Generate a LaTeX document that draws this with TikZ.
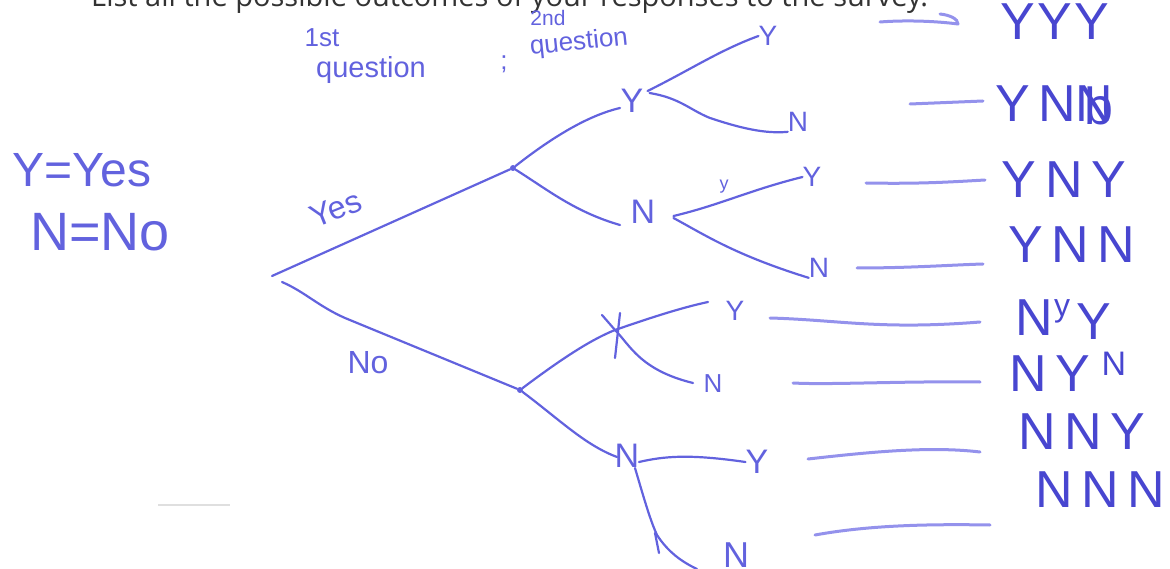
\documentclass[tikz,border=0pt]{standalone}
\usepackage{fontspec}
\setmainfont{Liberation Sans}
\newfontfamily\printfont{Open Sans}
\definecolor{ink}{HTML}{6262DE}
\definecolor{inkdark}{HTML}{4846D0}
\definecolor{inklight}{HTML}{9492EC}
\definecolor{printgray}{HTML}{333333}
\tikzset{
  branch/.style={draw=ink, line width=2.2pt, line cap=round, line join=round},
  guide/.style={draw=inklight, line width=3pt, line cap=round},
  dotmark/.style={circle, fill=ink, inner sep=0pt, minimum size=6pt},
  lab/.style={text=ink, inner sep=0pt, font=\fontsize{34}{34}\selectfont},
  leaf/.style={text=ink, inner sep=0pt, font=\fontsize{28}{28}\selectfont},
  note/.style={text=ink, inner sep=0pt, font=\fontsize{22}{22}\selectfont},
  outcome/.style={text=inkdark, inner sep=0pt, font=\fontsize{52}{52}\selectfont},
}
\begin{document}
\begin{tikzpicture}[x=1pt,y=-1pt]
\useasboundingbox (0,0) rectangle (1170,569);
\clip (0,0) rectangle (1170,569);

% printed instruction, cut off at the top edge
\node[anchor=base west, inner sep=0pt, text=printgray, font=\printfont\fontsize{29}{29}\selectfont]
  (title) at (91,7) {List all the possible outcomes of your responses to the survey.};

% legend
\node[note, font=\fontsize{48}{48}\selectfont] (legy) at (82,170) {Y=Yes};
\node[note, font=\fontsize{54}{54}\selectfont] (legn) at (100,232) {N=No};

% column headings
\node[note, font=\fontsize{26}{26}\selectfont] (h1a) at (322,38) {1st};
\node[note, font=\fontsize{29}{29}\selectfont] (h1b) at (371,70) {question};
\node[note, font=\fontsize{26}{26}\selectfont] (semi) at (504,64) {;};
\node[note, font=\fontsize{21}{21}\selectfont] (h2a) at (548,18) {2nd};
\node[note, rotate=6, font=\fontsize{26}{26}\selectfont] (h2b) at (579,43) {question};

% tree: root and first-level nodes
\coordinate (root) at (272,276);
\coordinate (root2) at (282,282);
\node[dotmark] (a) at (513,168) {};
\node[dotmark] (b) at (520,390) {};
\draw[branch] (root) -- (a);
\draw[branch] (root2) .. controls (305,292) and (318,306) .. (345,318) -- (b);
\node[note, rotate=22, font=\fontsize{32}{32}\selectfont] (yes) at (336,209) {Yes};
\node[note, font=\fontsize{32}{32}\selectfont] (no) at (368,363) {No};

% second level
\node[lab] (y1) at (632,101) {Y};
\node[lab] (n1) at (643,212) {N};
\node[lab] (n2) at (627,456) {N};
\coordinate (x2) at (615,330);
\draw[branch] (a) .. controls (555,135) and (590,115) .. (620,108);
\draw[branch] (a) .. controls (548,190) and (575,212) .. (620,225);
\draw[branch] (b) .. controls (560,360) and (590,340) .. (x2);
\draw[branch] (b) .. controls (560,420) and (585,445) .. (617,457);

% third level leaves
\node[leaf] (yy) at (768,36) {Y};
\node[leaf] (yn) at (798,122) {N};
\node[leaf] (ny) at (812,177) {Y};
\node[leaf] (nn) at (819,268) {N};
\node[leaf] (xy) at (735,311) {Y};
\node[leaf, font=\fontsize{26}{26}\selectfont] (xn) at (713,384) {N};
\node[leaf, font=\fontsize{34}{34}\selectfont] (zy) at (757,462) {Y};
\node[leaf, font=\fontsize{36}{36}\selectfont] (zn) at (736,555) {N};

\draw[branch] (y1.east) ++(4,-10) .. controls (690,70) and (720,50) .. (yy.west);
\draw[branch] (y1.east) ++(6,-8) .. controls (680,98) and (690,110) .. (710,118) .. controls (740,128) and (765,134) .. (yn.south west);
\draw[branch] (n1.east) ++(18,4) .. controls (720,205) and (750,190) .. (ny.west);
\node[note, font=\fontsize{18}{18}\selectfont] (scrib) at (724,187) {y};
\draw[branch] (n1.east) ++(18,6) .. controls (705,235) and (735,255) .. (nn.south west);
\draw[branch] (x2) .. controls (650,318) and (680,308) .. (708,302);
\draw[branch] (602,315) -- (x2) .. controls (630,345) and (640,370) .. (693,383);
\draw[branch] (620,313) -- (615,358);
\draw[branch] (639,462) .. controls (665,456) and (690,454) .. (zy.west);
\draw[branch] (635,468) .. controls (643,495) and (650,520) .. (657,535) .. controls (668,552) and (682,562) .. (697,569);
\draw[branch] (655,533) -- (659,553);

% outcome words
\node[outcome] (o1) at (1055,22) {Y\kern2pt Y\kern2pt Y};
\node[outcome] (o2) at (1036,104) {Y\,N};
\node[outcome] (o2b) at (1094,104) {N};
\node[outcome] (o2c) at (1099,106) {b};
\node[outcome] (o3) at (1064,180) {Y\,N\,Y};
\node[outcome] (o4) at (1072,245) {Y\,N\,N};
\node[outcome] (o5) at (1034,318) {N};
\node[outcome, font=\fontsize{32}{32}\selectfont] (o5b) at (1062,311) {y};
\node[outcome] (o5c) at (1094,322) {Y};
\node[outcome] (o6) at (1050,374) {N\,Y};
\node[outcome, font=\fontsize{34}{34}\selectfont] (o6b) at (1114,364) {N};
\node[outcome] (o7) at (1082,432) {N\,N\,Y};
\node[outcome] (o8) at (1100,490) {N\,N\,N};

% guide lines leading to the outcomes
\coordinate (g1) at (880,22);
\coordinate (g1e) at (958,24);
\draw[guide] (g1) .. controls (905,20) and (935,21) .. (g1e);
\draw[guide] (940,14) .. controls (950,15) and (958,19) .. (g1e);
\draw[guide] (910,104) -- (983,101);
\draw[guide] (866,183) .. controls (920,184) and (950,182) .. (985,180);
\draw[guide] (857,268) .. controls (910,268) and (950,265) .. (983,264);
\draw[guide] (770,318) .. controls (840,320) and (880,330) .. (980,322);
\draw[guide] (793,383) .. controls (830,385) and (900,381) .. (980,382);
\draw[guide] (808,459) .. controls (870,452) and (930,446) .. (980,452);
\draw[guide] (815,535) .. controls (870,525) and (930,524) .. (990,525);

% faint smudge
\draw[gray!25, line width=2pt] (158,505) -- (230,505);
\end{tikzpicture}
\end{document}
